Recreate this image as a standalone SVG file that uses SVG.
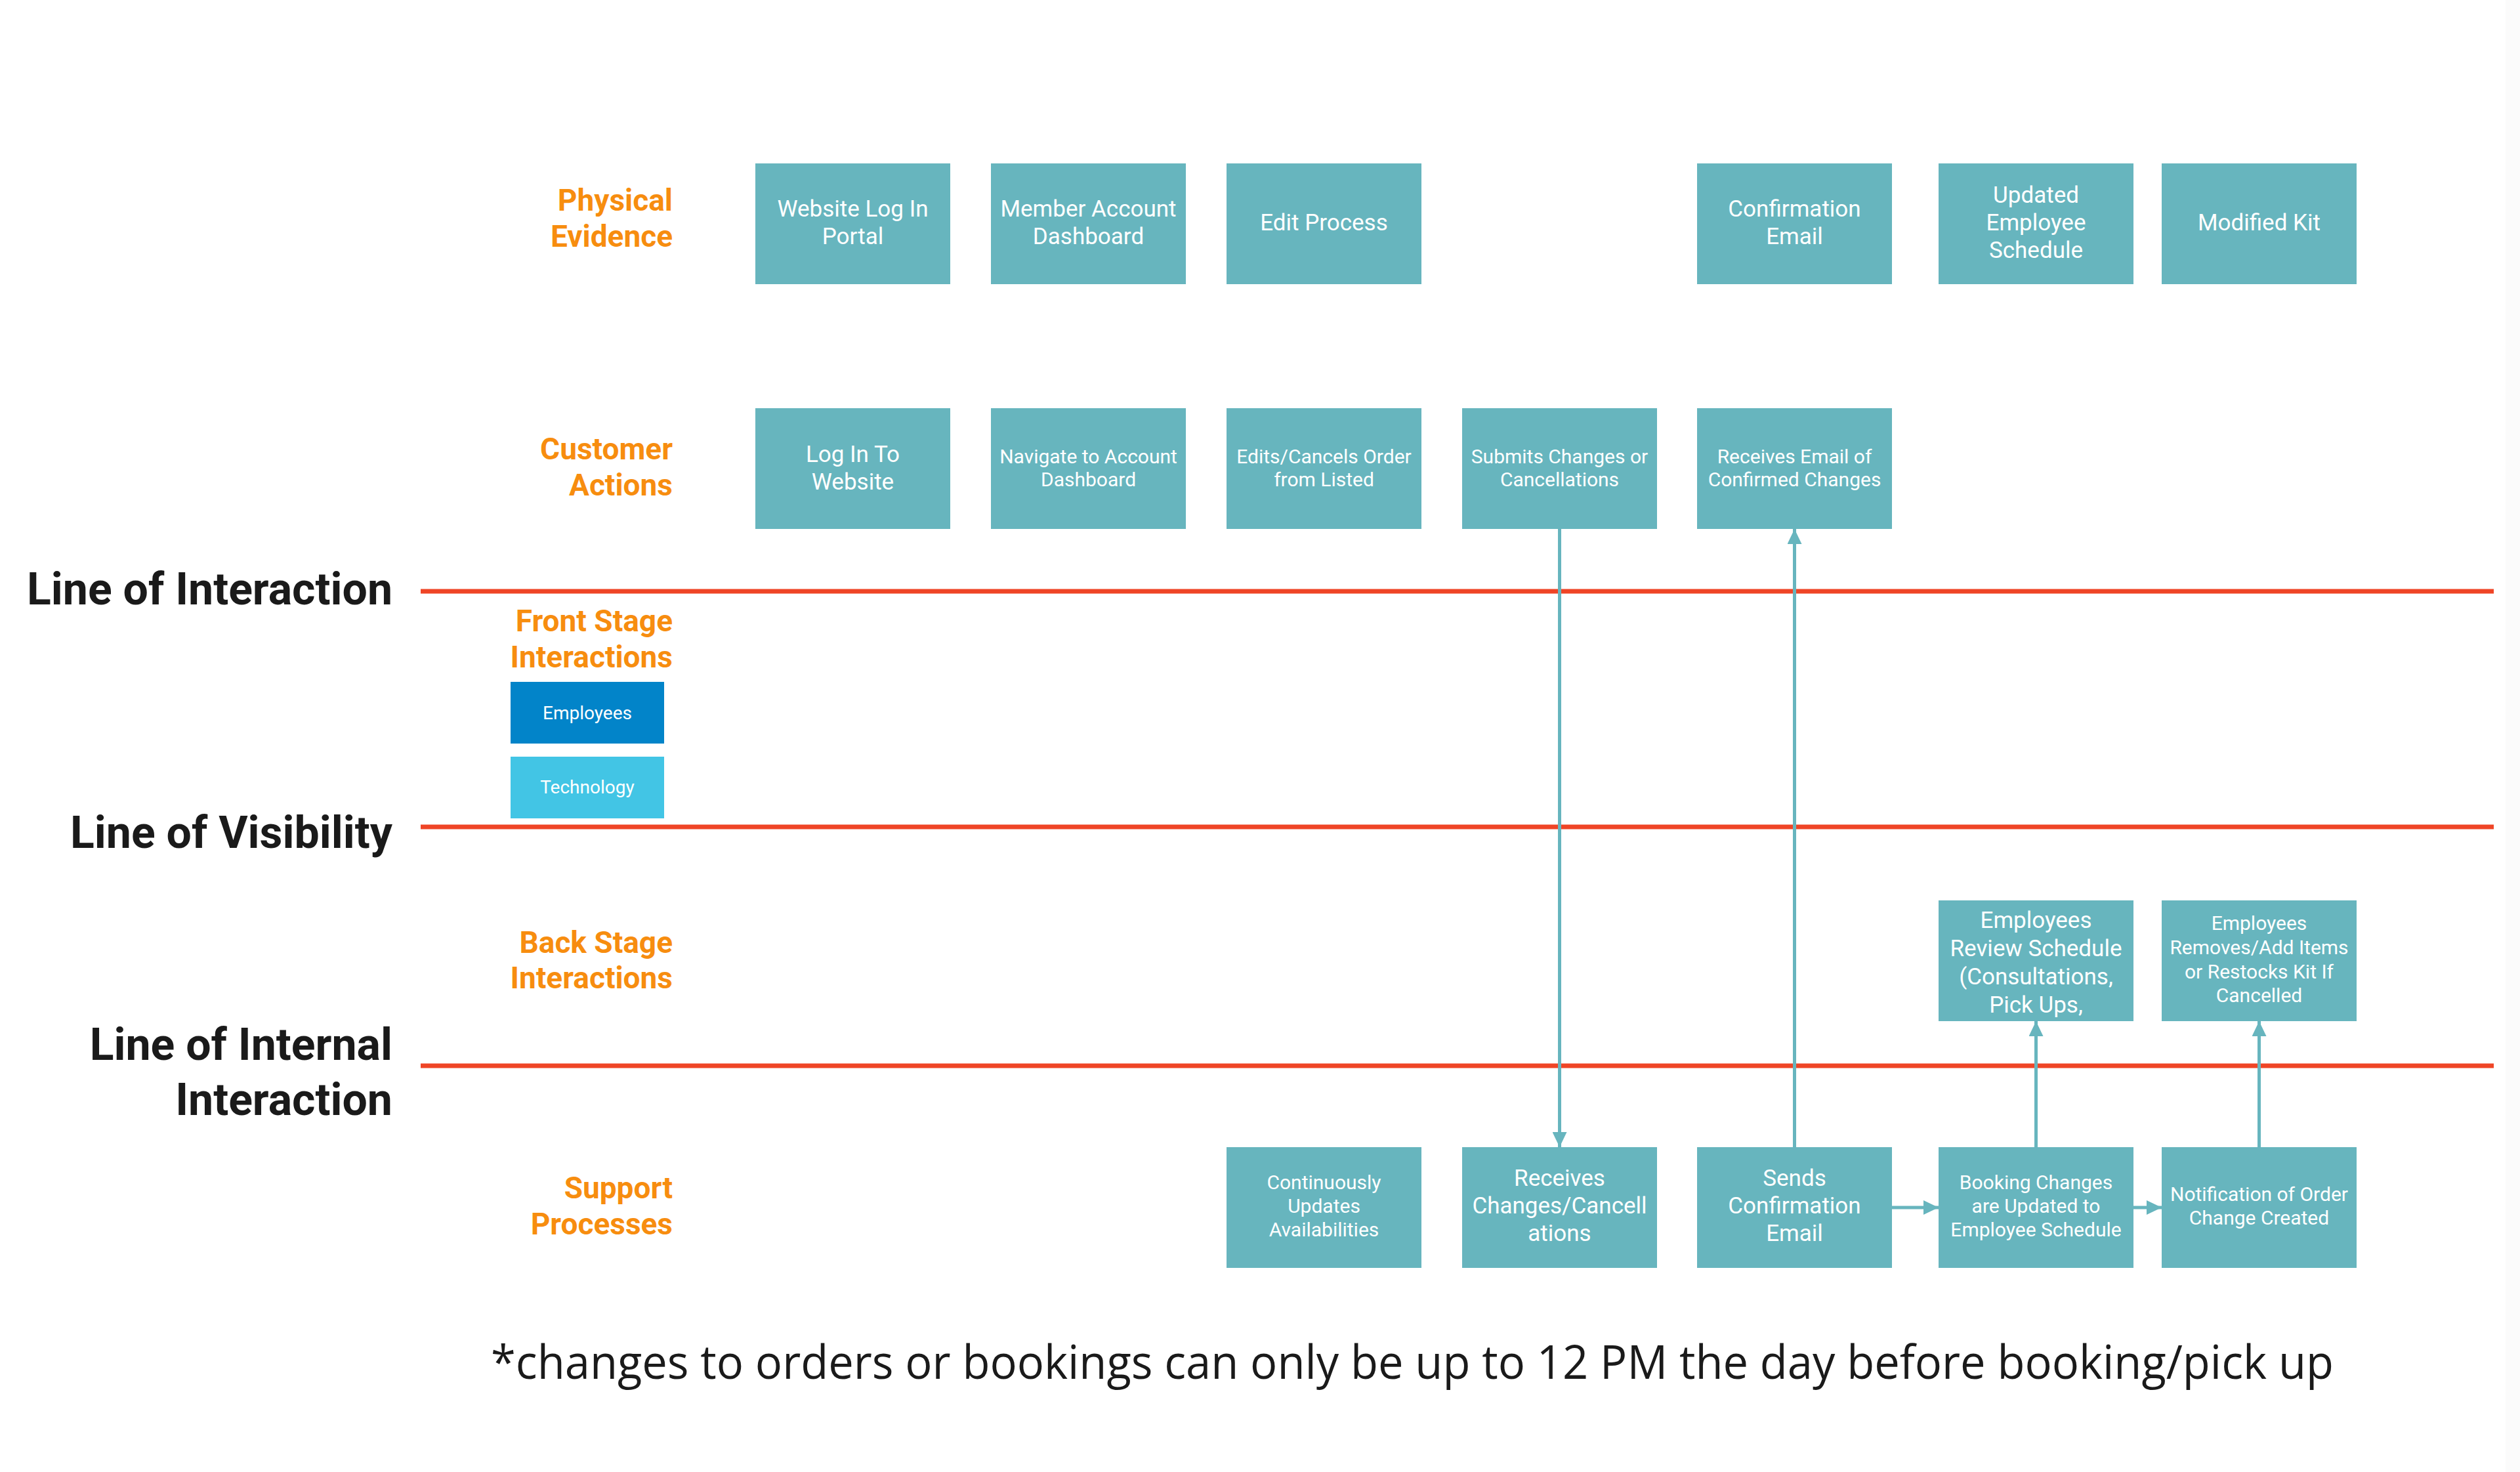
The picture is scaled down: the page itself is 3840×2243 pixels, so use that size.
<svg xmlns="http://www.w3.org/2000/svg" width="3840" height="2243" viewBox="0 0 3840 2243">
<style>
.bg{fill:#ffffff}
.node{fill:#67B5BE}
.nt{fill:#ffffff;font-family:Roboto,"Liberation Sans",sans-serif;text-anchor:middle}
.big{font-size:35px}
.sm{font-size:30px}
.lane{fill:#F78D0F;font-family:Roboto,"Liberation Sans",sans-serif;font-weight:bold;font-size:46px;text-anchor:end}
.line-label{fill:#1A1A1A;font-family:Roboto,"Liberation Sans",sans-serif;font-weight:bold;font-size:68px;text-anchor:end}
.redline{stroke:#EF4526;stroke-width:7}
.conn{stroke:#67B5BE;stroke-width:5;fill:none}
.leg{fill:#ffffff;font-family:Roboto,"Liberation Sans",sans-serif;font-size:28px;text-anchor:middle}
.foot{fill:#1A1A1A;font-family:"Open Sans","Liberation Sans",sans-serif;font-size:71px}
</style>
<defs>
<marker id="ah" markerUnits="userSpaceOnUse" markerWidth="23" markerHeight="22" refX="23" refY="11" orient="auto">
<path d="M0,0 L23,11 L0,22 z" fill="#67B5BE"/>
</marker>
</defs>
<rect class="bg" x="0" y="0" width="3840" height="2243"/>
<rect x="3818" y="0" width="22" height="2243" fill="#FBFBFB"/>

<g id="lines">
<line class="redline" x1="641" y1="901" x2="3800" y2="901"/>
<line class="redline" x1="641" y1="1260" x2="3800" y2="1260"/>
<line class="redline" x1="641" y1="1624" x2="3800" y2="1624"/>
</g>

<g id="line-labels">
<text class="line-label" x="598" y="921">Line of Interaction</text>
<text class="line-label" x="598" y="1292">Line of Visibility</text>
<text class="line-label" x="598" y="1615">Line of Internal</text>
<text class="line-label" x="598" y="1699">Interaction</text>
</g>

<g id="lane-labels">
<text class="lane" x="1025" y="321">Physical</text>
<text class="lane" x="1025" y="376">Evidence</text>
<text class="lane" x="1025" y="700">Customer</text>
<text class="lane" x="1025" y="755">Actions</text>
<text class="lane" x="1025" y="962">Front Stage</text>
<text class="lane" x="1025" y="1017">Interactions</text>
<text class="lane" x="1025" y="1452">Back Stage</text>
<text class="lane" x="1025" y="1506">Interactions</text>
<text class="lane" x="1025" y="1826">Support</text>
<text class="lane" x="1025" y="1881">Processes</text>
</g>

<g id="legend-employees">
<rect x="778" y="1039" width="234" height="94" fill="#0284C9"/>
<text class="leg" x="895" y="1096">Employees</text>
</g>
<g id="legend-technology">
<rect x="778" y="1153" width="234" height="94" fill="#42C5E5"/>
<text class="leg" x="895" y="1209">Technology</text>
</g>

<g id="connectors">
<line class="conn" x1="2376.5" y1="806" x2="2376.5" y2="1748" marker-end="url(#ah)"/>
<line class="conn" x1="2734.5" y1="1748" x2="2734.5" y2="806" marker-end="url(#ah)"/>
<line class="conn" x1="2883" y1="1840" x2="2954" y2="1840" marker-end="url(#ah)"/>
<line class="conn" x1="3251" y1="1840" x2="3294" y2="1840" marker-end="url(#ah)"/>
<line class="conn" x1="3102.5" y1="1748" x2="3102.5" y2="1556" marker-end="url(#ah)"/>
<line class="conn" x1="3442.5" y1="1748" x2="3442.5" y2="1556" marker-end="url(#ah)"/>
</g>

<g id="pe1"><rect class="node" x="1151" y="249" width="297" height="184"/>
<text class="nt big" x="1299.5" y="330">Website Log In</text><text class="nt big" x="1299.5" y="372">Portal</text></g>
<g id="pe2"><rect class="node" x="1510" y="249" width="297" height="184"/>
<text class="nt big" x="1658.5" y="330">Member Account</text><text class="nt big" x="1658.5" y="372">Dashboard</text></g>
<g id="pe3"><rect class="node" x="1869" y="249" width="297" height="184"/>
<text class="nt big" x="2017.5" y="351">Edit Process</text></g>
<g id="pe4"><rect class="node" x="2586" y="249" width="297" height="184"/>
<text class="nt big" x="2734.5" y="330">Confirmation</text><text class="nt big" x="2734.5" y="372">Email</text></g>
<g id="pe5"><rect class="node" x="2954" y="249" width="297" height="184"/>
<text class="nt big" x="3102.5" y="309">Updated</text><text class="nt big" x="3102.5" y="351">Employee</text><text class="nt big" x="3102.5" y="393">Schedule</text></g>
<g id="pe6"><rect class="node" x="3294" y="249" width="297" height="184"/>
<text class="nt big" x="3442.5" y="351">Modified Kit</text></g>

<g id="ca1"><rect class="node" x="1151" y="622" width="297" height="184"/>
<text class="nt big" x="1299.5" y="704">Log In To</text><text class="nt big" x="1299.5" y="746">Website</text></g>
<g id="ca2"><rect class="node" x="1510" y="622" width="297" height="184"/>
<text class="nt sm" x="1658.5" y="706">Navigate to Account</text><text class="nt sm" x="1658.5" y="741">Dashboard</text></g>
<g id="ca3"><rect class="node" x="1869" y="622" width="297" height="184"/>
<text class="nt sm" x="2017.5" y="706">Edits/Cancels Order</text><text class="nt sm" x="2017.5" y="741">from Listed</text></g>
<g id="ca4"><rect class="node" x="2228" y="622" width="297" height="184"/>
<text class="nt sm" x="2376.5" y="706">Submits Changes or</text><text class="nt sm" x="2376.5" y="741">Cancellations</text></g>
<g id="ca5"><rect class="node" x="2586" y="622" width="297" height="184"/>
<text class="nt sm" x="2734.5" y="706">Receives Email of</text><text class="nt sm" x="2734.5" y="741">Confirmed Changes</text></g>

<g id="bs1"><rect class="node" x="2954" y="1372" width="297" height="184"/>
<text class="nt big" x="3102.5" y="1414">Employees</text><text class="nt big" x="3102.5" y="1457">Review Schedule</text><text class="nt big" x="3102.5" y="1500">(Consultations,</text><text class="nt big" x="3102.5" y="1543">Pick Ups,</text></g>
<g id="bs2"><rect class="node" x="3294" y="1372" width="297" height="184"/>
<text class="nt sm" x="3442.5" y="1417">Employees</text><text class="nt sm" x="3442.5" y="1454">Removes/Add Items</text><text class="nt sm" x="3442.5" y="1491">or Restocks Kit If</text><text class="nt sm" x="3442.5" y="1527">Cancelled</text></g>

<g id="sp1"><rect class="node" x="1869" y="1748" width="297" height="184"/>
<text class="nt sm" x="2017.5" y="1812">Continuously</text><text class="nt sm" x="2017.5" y="1848">Updates</text><text class="nt sm" x="2017.5" y="1884">Availabilities</text></g>
<g id="sp2"><rect class="node" x="2228" y="1748" width="297" height="184"/>
<text class="nt big" x="2376.5" y="1807">Receives</text><text class="nt big" x="2376.5" y="1849">Changes/Cancell</text><text class="nt big" x="2376.5" y="1891">ations</text></g>
<g id="sp3"><rect class="node" x="2586" y="1748" width="297" height="184"/>
<text class="nt big" x="2734.5" y="1807">Sends</text><text class="nt big" x="2734.5" y="1849">Confirmation</text><text class="nt big" x="2734.5" y="1891">Email</text></g>
<g id="sp4"><rect class="node" x="2954" y="1748" width="297" height="184"/>
<text class="nt sm" x="3102.5" y="1812">Booking Changes</text><text class="nt sm" x="3102.5" y="1848">are Updated to</text><text class="nt sm" x="3102.5" y="1884">Employee Schedule</text></g>
<g id="sp5"><rect class="node" x="3294" y="1748" width="297" height="184"/>
<text class="nt sm" x="3442.5" y="1830">Notification of Order</text><text class="nt sm" x="3442.5" y="1866">Change Created</text></g>

<g id="footnote">
<text class="foot" x="748" y="2101" textLength="2808" lengthAdjust="spacingAndGlyphs">*changes to orders or bookings can only be up to 12 PM the day before booking/pick up</text>
</g>
</svg>
